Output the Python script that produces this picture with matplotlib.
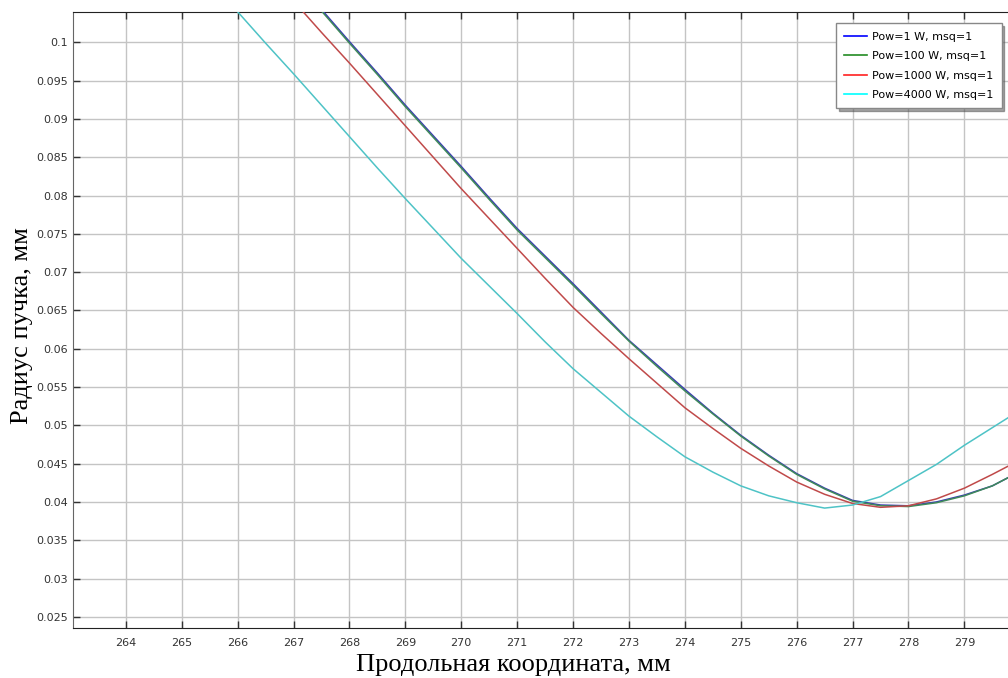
import numpy as np
import matplotlib.pyplot as plt
from matplotlib.lines import Line2D

# Beam radius vs longitudinal coordinate
x_p1 = [267.0, 267.5, 268.0, 268.5, 269.0, 269.5, 270.0, 270.5, 271.0, 271.5,
        272.0, 272.5, 273.0, 273.5, 274.0, 274.5, 275.0, 275.5, 276.0, 276.5,
        277.0, 277.5, 278.0, 278.5, 279.0, 279.5, 280.0]
r_p1 = [0.1085, 0.1043, 0.1001, 0.0960, 0.0918, 0.0878, 0.0838, 0.0797, 0.0757, 0.0721,
        0.0685, 0.0648, 0.0611, 0.0579, 0.0547, 0.0516, 0.0487, 0.0461, 0.0437, 0.0418,
        0.0402, 0.0396, 0.0395, 0.0400, 0.0409, 0.0421, 0.0440]

x_p100 = x_p1
r_p100 = [0.1083, 0.1041, 0.0999, 0.0958, 0.0916, 0.0876, 0.0836, 0.0795, 0.0755, 0.0719,
          0.0683, 0.0646, 0.0610, 0.0577, 0.0545, 0.0515, 0.0486, 0.0460, 0.0436, 0.0417,
          0.0401, 0.0395, 0.0394, 0.0399, 0.0408, 0.0421, 0.0440]

x_p1000 = [266.5, 267.0, 267.5, 268.0, 268.5, 269.0, 269.5, 270.0, 270.5, 271.0,
           271.5, 272.0, 272.5, 273.0, 273.5, 274.0, 274.5, 275.0, 275.5, 276.0,
           276.5, 277.0, 277.5, 278.0, 278.5, 279.0, 279.5, 280.0]
r_p1000 = [0.1095, 0.1054, 0.1013, 0.0973, 0.0932, 0.0891, 0.0850, 0.0809, 0.0770, 0.0731,
           0.0692, 0.0654, 0.0620, 0.0587, 0.0555, 0.0523, 0.0496, 0.0470, 0.0447, 0.0426,
           0.0410, 0.0398, 0.0393, 0.0395, 0.0404, 0.0418, 0.0436, 0.0455]

x_p4000 = [265.5, 266.0, 266.5, 267.0, 267.5, 268.0, 268.5, 269.0, 269.5, 270.0,
           270.5, 271.0, 271.5, 272.0, 272.5, 273.0, 273.5, 274.0, 274.5, 275.0,
           275.5, 276.0, 276.5, 277.0, 277.5, 278.0, 278.5, 279.0, 279.5, 280.0]
r_p4000 = [0.1081, 0.1040, 0.0999, 0.0959, 0.0918, 0.0877, 0.0836, 0.0796, 0.0757, 0.0718,
           0.0682, 0.0646, 0.0609, 0.0574, 0.0543, 0.0512, 0.0485, 0.0459, 0.0439, 0.0421,
           0.0408, 0.0399, 0.0392, 0.0396, 0.0407, 0.0428, 0.0449, 0.0474, 0.0497, 0.0520]

labels = ["Pow=1 W, msq=1", "Pow=100 W, msq=1", "Pow=1000 W, msq=1", "Pow=4000 W, msq=1"]
line_colors = ["#3a3ab4", "#3f8a5a", "#c04a4a", "#4ec3c6"]
legend_colors = ["#0000ff", "#228b22", "#ff2020", "#00ffff"]

x_ticks = np.arange(264, 280)
y_ticks = np.arange(0.025, 0.1001, 0.005)

fig = plt.figure(figsize=(10.08, 6.78), dpi=100)
ax = fig.add_axes([0.0724, 0.0737, 0.9276, 0.909])

series = [(x_p1, r_p1), (x_p100, r_p100), (x_p1000, r_p1000), (x_p4000, r_p4000)]
for (xs, ys), c in zip(series, line_colors):
    ax.plot(xs, ys, color=c, lw=1.1, zorder=3)

ax.set_xlim(263.055, 279.78)
ax.set_ylim(0.02354, 0.104)
ax.set_xticks(x_ticks)
ax.set_yticks(y_ticks)
ax.set_xticklabels([str(v) for v in x_ticks])
ax.set_yticklabels([f"{v:.3f}".rstrip("0").rstrip(".") for v in y_ticks])
ax.grid(True, color="#c4c4c4", lw=1.0)
ax.set_axisbelow(True)

ax.tick_params(axis="both", direction="in", length=5, width=1, labelsize=8,
               colors="#333333", top=True, right=False)
ax.tick_params(axis="x", pad=7)
for s in ["top", "bottom"]:
    ax.spines[s].set_color("#222222")
ax.spines["left"].set_color("#666666")
ax.spines["right"].set_visible(False)

ax.set_xlabel("Продольная координата, мм", family="Liberation Serif", fontsize=19, va="center")
ax.set_ylabel("Радиус пучка, мм", family="Liberation Serif", fontsize=19, va="center")
ax.xaxis.set_label_coords(0.471, -0.060)
ax.yaxis.set_label_coords(-0.055, 0.49)

handles = [Line2D([0], [0], color=c, lw=1.2) for c in legend_colors]
leg = ax.legend(handles, labels, loc="upper right", bbox_to_anchor=(0.9937, 0.9656),
                bbox_transform=fig.transFigure, borderaxespad=0, fontsize=8,
                fancybox=False, shadow=True, framealpha=1, edgecolor="#888888",
                handlelength=2.1, handletextpad=0.4, borderpad=0.75, labelspacing=0.85)
leg.get_frame().set_linewidth(1.0)

fig.savefig("out.png", dpi=100)
